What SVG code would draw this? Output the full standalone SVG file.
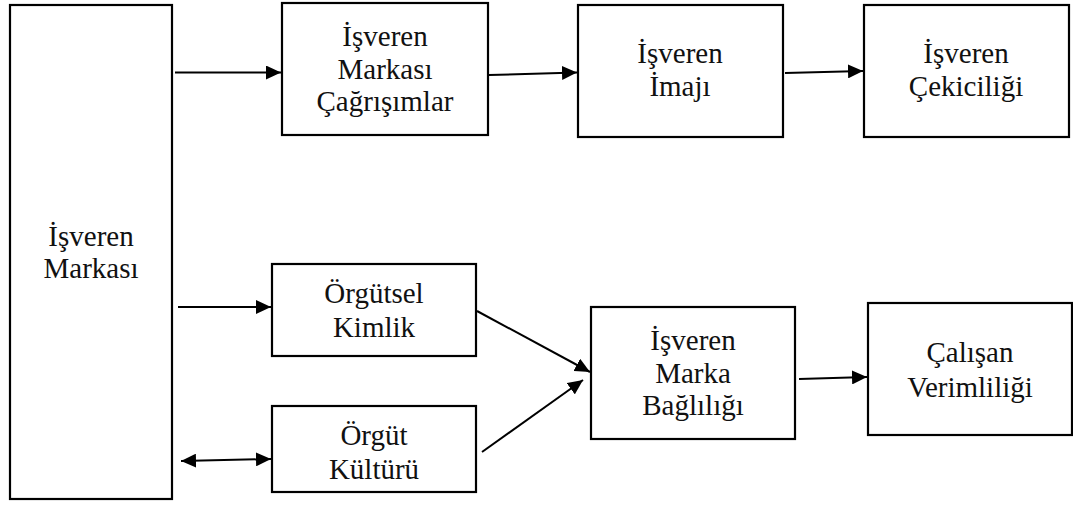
<svg xmlns="http://www.w3.org/2000/svg" width="1073" height="506" viewBox="0 0 1073 506">
  <style>
    .box { fill: #fff; stroke: #000; stroke-width: 2.2; }
    .lbl { font-size: 29px; fill: #111; text-anchor: middle; }
    .edge { fill: none; stroke: #000; stroke-width: 2; }
  </style>
  <defs>
    <marker id="arrow" viewBox="0 0 15 14" refX="15" refY="7" markerWidth="15" markerHeight="14" markerUnits="userSpaceOnUse" orient="auto-start-reverse">
      <path d="M0,0 L15,7 L0,14 Z" fill="#000"/>
    </marker>
  </defs>
  <rect width="1073" height="506" fill="#fff"/>

  <g font-family="'Liberation Serif', serif">
    <g id="isveren-markasi">
      <rect class="box" x="10" y="5" width="162" height="494"/>
      <text class="lbl" x="91" y="246">İşveren</text>
      <text class="lbl" x="91" y="278">Markası</text>
    </g>

    <g id="cagrisimlar">
      <rect class="box" x="282" y="3" width="206" height="132"/>
      <text class="lbl" x="385" y="46">İşveren</text>
      <text class="lbl" x="385" y="79">Markası</text>
      <text class="lbl" x="385" y="111">Çağrışımlar</text>
    </g>

    <g id="imaj">
      <rect class="box" x="578" y="5" width="205" height="132"/>
      <text class="lbl" x="680" y="63">İşveren</text>
      <text class="lbl" x="680" y="96">İmajı</text>
    </g>

    <g id="cekicilik">
      <rect class="box" x="864" y="5" width="205" height="132"/>
      <text class="lbl" x="966" y="63">İşveren</text>
      <text class="lbl" x="966" y="96">Çekiciliği</text>
    </g>

    <g id="orgutsel-kimlik">
      <rect class="box" x="272" y="264" width="204" height="92"/>
      <text class="lbl" x="374" y="303">Örgütsel</text>
      <text class="lbl" x="374" y="337">Kimlik</text>
    </g>

    <g id="orgut-kulturu">
      <rect class="box" x="272" y="406" width="204" height="86"/>
      <text class="lbl" x="374" y="445">Örgüt</text>
      <text class="lbl" x="374" y="479">Kültürü</text>
    </g>

    <g id="marka-bagliligi">
      <rect class="box" x="591" y="307" width="204" height="132"/>
      <text class="lbl" x="693" y="350">İşveren</text>
      <text class="lbl" x="693" y="383">Marka</text>
      <text class="lbl" x="693" y="415">Bağlılığı</text>
    </g>

    <g id="calisan-verimliligi">
      <rect class="box" x="868" y="303" width="204" height="132"/>
      <text class="lbl" x="970" y="362">Çalışan</text>
      <text class="lbl" x="970" y="397">Verimliliği</text>
    </g>
  </g>

  <g id="connectors">
    <line class="edge" x1="175" y1="72.5" x2="281" y2="72.5" marker-end="url(#arrow)"/>
    <line class="edge" x1="489" y1="75" x2="577" y2="72.5" marker-end="url(#arrow)"/>
    <line class="edge" x1="785" y1="73" x2="863" y2="71" marker-end="url(#arrow)"/>
    <line class="edge" x1="178" y1="307" x2="271" y2="307" marker-end="url(#arrow)"/>
    <line class="edge" x1="181" y1="461" x2="271" y2="459" marker-start="url(#arrow)" marker-end="url(#arrow)"/>
    <line class="edge" x1="477" y1="311" x2="590" y2="372" marker-end="url(#arrow)"/>
    <line class="edge" x1="482" y1="452" x2="583" y2="380" marker-end="url(#arrow)"/>
    <line class="edge" x1="799" y1="379" x2="867" y2="377" marker-end="url(#arrow)"/>
  </g>
</svg>
